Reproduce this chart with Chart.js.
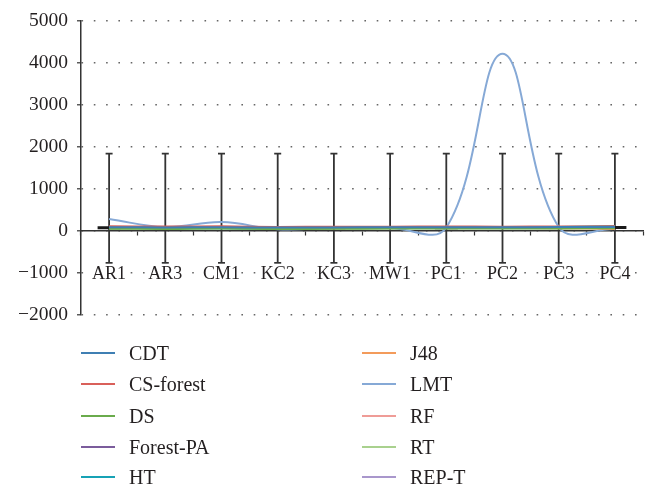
<!DOCTYPE html>
<html>
<head>
<meta charset="utf-8">
<script src="https://cdn.jsdelivr.net/npm/chart.js@4.4.1/dist/chart.umd.min.js"></script>
<style>
  html, body { margin: 0; padding: 0; background: #fff; }
  #wrap { position: relative; width: 648px; height: 488px; }
  #c { position: absolute; left: 0; top: 0; }
  #legend { position: absolute; left: 0; top: 0; width: 648px; height: 488px; pointer-events: none;
            font-family: "Liberation Serif", "Times New Roman", serif; font-size: 20px; color: #231f20; }
  .item { position: absolute; height: 20px; line-height: 20px; white-space: nowrap; }
  .item .sw { position: absolute; left: 0; top: 9px; width: 34px; height: 2px; }
  .item .tx { position: absolute; left: 48px; top: 0; }
</style>
</head>
<body>
<div id="wrap">
  <canvas id="c" width="648" height="488"></canvas>
  <div id="legend"></div>
</div>
<script>
// Data sets
const categories = ['AR1', 'AR3', 'CM1', 'KC2', 'KC3', 'MW1', 'PC1', 'PC2', 'PC3', 'PC4'];

const cdt      = [88, 84, 86, 80, 82, 87, 90, 88, 91, 93];
const csForest = [112, 104, 108, 95, 100, 102, 104, 102, 105, 108];
const ds       = [52, 48, 58, 45, 50, 55, 58, 56, 60, 62];
const forestPA = [82, 80, 84, 72, 78, 80, 86, 84, 87, 90];
const ht       = [70, 66, 62, 55, 68, 72, 88, 86, 95, 118];
const j48      = [76, 74, 72, 66, 70, 75, 74, 70, 66, 45];
const lmt      = [282, 92, 210, 40, 75, 72, 82, 4215, 92, 42];
const rf       = [95, 92, 96, 86, 90, 92, 94, 92, 95, 98];
const rt       = [60, 58, 62, 52, 56, 60, 64, 62, 66, 68];
const repT     = [86, 82, 84, 76, 80, 84, 88, 86, 90, 94];

// Average marker and its error range per data set
const avgMark = [78, 76, 80, 58, 78, 80, 78, 80, 80, 82];
const errLow  = [-760, -760, -760, -760, -760, -760, -760, -760, -760, -760];
const errHigh = [1840, 1840, 1840, 1840, 1840, 1840, 1840, 1840, 1840, 1840];

const yTicks = [-2000, -1000, 0, 1000, 2000, 3000, 4000, 5000];

const seriesNames  = ['CDT', 'CS-forest', 'DS', 'Forest-PA', 'HT', 'J48', 'LMT', 'RF', 'RT', 'REP-T'];
const seriesValues = [cdt, csForest, ds, forestPA, ht, j48, lmt, rf, rt, repT];
const seriesColors = ['#3f7fb3', '#d9605a', '#6aab4c', '#7b5c9c', '#17a2b5',
                      '#f39b5b', '#86a9d6', '#ef9c97', '#a9d18e', '#a997cc'];

const FONT = '"Liberation Serif", "Times New Roman", serif';
const TEXT = '#231f20';

const errorBars = {
  id: 'errorBars',
  beforeDatasetsDraw(chart) {
    const { ctx, scales: { x, y } } = chart;
    ctx.save();
    ctx.strokeStyle = '#333';
    ctx.lineWidth = 1.8;
    categories.forEach((c, i) => {
      const px = x.getPixelForValue(i);
      const top = y.getPixelForValue(errHigh[i]);
      const bot = y.getPixelForValue(errLow[i]);
      ctx.beginPath();
      ctx.moveTo(px, top); ctx.lineTo(px, bot);
      ctx.moveTo(px - 3.5, top); ctx.lineTo(px + 3.5, top);
      ctx.moveTo(px - 3.5, bot); ctx.lineTo(px + 3.5, bot);
      ctx.stroke();
    });
    ctx.restore();
  }
};

const datasets = seriesNames.map((name, k) => ({
  label: name,
  data: seriesValues[k],
  borderColor: seriesColors[k],
  backgroundColor: seriesColors[k],
  borderWidth: 2,
  pointRadius: 0,
  tension: 0.4,
  fill: false
}));
datasets.push({
  label: 'mean',
  data: avgMark,
  showLine: false,
  pointStyle: 'line',
  pointRadius: 11.5,
  pointBorderWidth: 3,
  pointBorderColor: '#1a1a1a',
  borderColor: '#1a1a1a'
});

const chart = new Chart(document.getElementById('c'), {
  type: 'line',
  data: { labels: categories, datasets },
  plugins: [errorBars],
  options: {
    responsive: false,
    animation: false,
    events: [],
    layout: { autoPadding: false, padding: { left: 0, top: 8, right: 5, bottom: 173 } },
    plugins: { legend: { display: false }, tooltip: { enabled: false } },
    scales: {
      x: {
        type: 'category',
        offset: true,
        position: { y: 0 },
        afterFit(s) { s.paddingLeft = 0; s.paddingRight = 0; },
        grid: { display: true, drawOnChartArea: false, drawTicks: true, offset: true,
                tickLength: 4, tickColor: '#333', tickWidth: 1.2 },
        border: { display: true, color: '#333', width: 1.5 },
        ticks: { color: TEXT, font: { family: FONT, size: 18 }, padding: 29,
                 maxRotation: 0, autoSkip: false, z: 1,
                 showLabelBackdrop: true, backdropColor: '#fff', backdropPadding: { x: 1, y: 0 } }
      },
      y: {
        min: yTicks[0],
        max: yTicks[yTicks.length - 1],
        afterBuildTicks(s) { s.ticks = yTicks.map(v => ({ value: v })); },
        afterFit(s) { s.width = 81; },
        ticks: { color: TEXT, font: { family: FONT, size: 19.5 }, padding: 9,
                 callback: v => String(v).replace('-', '\u2212') },
        grid: { color: '#666', lineWidth: 1.6, drawTicks: true, tickLength: 4,
                tickColor: '#333', tickWidth: 1.2, tickBorderDash: [] },
        border: { display: true, color: '#333', width: 1.5, dash: [1.6, 10.7] }
      }
    }
  }
});

// Two-column legend built from the chart's own data sets
const legendEl = document.getElementById('legend');
const colX = [81, 362];
const rowY = [343, 374, 406, 437, 467];
chart.data.datasets.slice(0, seriesNames.length).forEach((d, k) => {
  const item = document.createElement('div');
  item.className = 'item';
  item.style.left = colX[Math.floor(k / 5)] + 'px';
  item.style.top = rowY[k % 5] + 'px';
  const sw = document.createElement('span');
  sw.className = 'sw';
  sw.style.background = d.borderColor;
  const tx = document.createElement('span');
  tx.className = 'tx';
  tx.textContent = d.label;
  item.appendChild(sw);
  item.appendChild(tx);
  legendEl.appendChild(item);
});
</script>
</body>
</html>
